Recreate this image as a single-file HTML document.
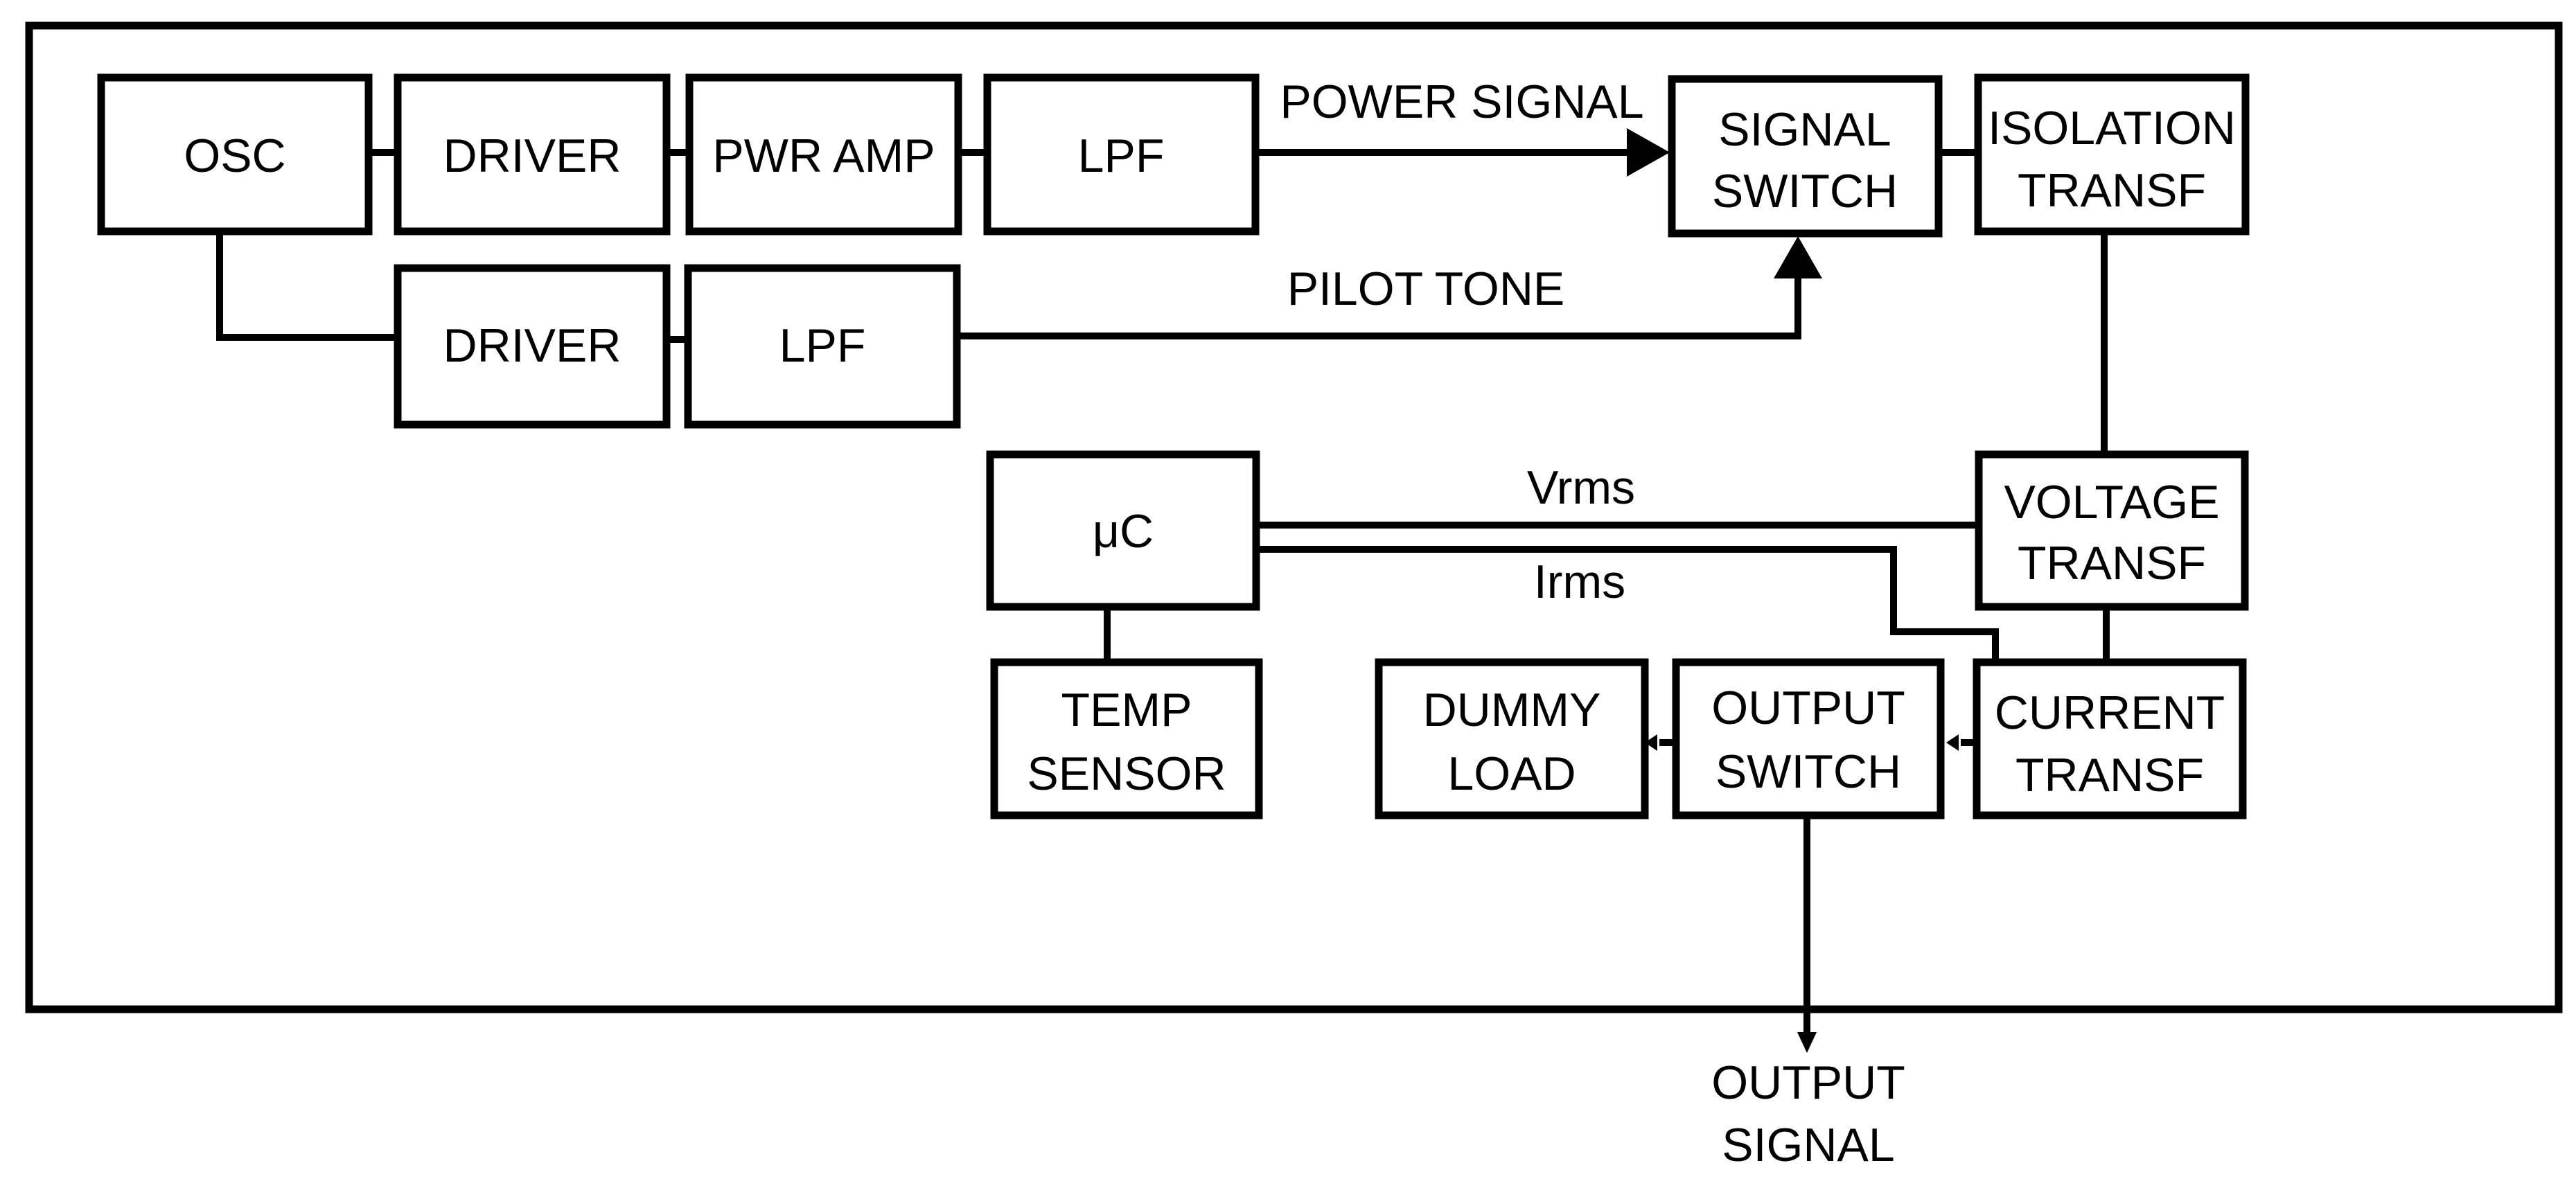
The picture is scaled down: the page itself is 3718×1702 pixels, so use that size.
<!DOCTYPE html>
<html><head><meta charset="utf-8"><style>html,body{margin:0;padding:0;background:#fff}svg{display:block}</style></head>
<body>
<svg width="3718" height="1702" viewBox="0 0 3718 1702" xmlns="http://www.w3.org/2000/svg" font-family="'Liberation Sans', sans-serif" font-size="68" text-anchor="middle">
<rect x="0" y="0" width="3718" height="1702" fill="#fff"/>
<rect x="42" y="37" width="3651" height="1420" fill="none" stroke="#000" stroke-width="11"/>
<g fill="none" stroke="#000" stroke-width="11">
<rect x="146" y="112" width="386" height="222"/>
<rect x="574" y="112" width="388" height="222"/>
<rect x="995" y="112" width="388" height="222"/>
<rect x="1425" y="112" width="387" height="222"/>
<rect x="2413" y="114" width="385" height="223"/>
<rect x="2855" y="112" width="386" height="222"/>
<rect x="574" y="387" width="388" height="226"/>
<rect x="993" y="387" width="388" height="226"/>
<rect x="1429" y="656" width="384" height="220"/>
<rect x="2856" y="656" width="384" height="220"/>
<rect x="1435" y="956" width="382" height="221"/>
<rect x="1990" y="956" width="384" height="221"/>
<rect x="2419" y="956" width="382" height="221"/>
<rect x="2853" y="956" width="384" height="221"/>
</g>
<g fill="none" stroke="#000" stroke-width="10">
<line x1="532" y1="220" x2="574" y2="220"/>
<line x1="962" y1="220" x2="995" y2="220"/>
<line x1="1383" y1="220" x2="1425" y2="220"/>
<line x1="1812" y1="220" x2="2352" y2="220"/>
<line x1="2798" y1="220" x2="2855" y2="220"/>
<polyline points="317,334 317,487 574,487"/>
<line x1="962" y1="490" x2="993" y2="490"/>
<polyline points="1381,485 2595,485 2595,400"/>
<line x1="3037" y1="334" x2="3037" y2="656"/>
<line x1="3040" y1="876" x2="3040" y2="956"/>
<line x1="1813" y1="758" x2="2856" y2="758"/>
<polyline points="1813,793 2733,793 2733,912 2880,912 2880,956"/>
<line x1="1598" y1="876" x2="1598" y2="956"/>
<line x1="2608" y1="1177" x2="2608" y2="1495"/>
<line x1="2419" y1="1072" x2="2395" y2="1072"/>
<line x1="2853" y1="1072" x2="2830" y2="1072"/>
</g>
<polygon points="2348,185 2410,220 2348,255" fill="#000"/>
<polygon points="2560,402 2595,341 2630,402" fill="#000"/>
<polygon points="2594,1490 2608,1520 2622,1490" fill="#000"/>
<polygon points="2374,1072 2392,1060 2392,1084" fill="#000"/>
<polygon points="2809,1072 2827,1060 2827,1084" fill="#000"/>
<g fill="#000">
<text x="339" y="248">OSC</text>
<text x="768" y="248">DRIVER</text>
<text x="1189" y="248">PWR AMP</text>
<text x="1618" y="248">LPF</text>
<text x="768" y="522">DRIVER</text>
<text x="1187" y="522">LPF</text>
<text x="2605" y="210">SIGNAL</text>
<text x="2605" y="299">SWITCH</text>
<text x="3048" y="208">ISOLATION</text>
<text x="3048" y="298">TRANSF</text>
<text x="2110" y="170">POWER SIGNAL</text>
<text x="2058" y="440">PILOT TONE</text>
<text x="1621" y="790">μC</text>
<text x="3048" y="748">VOLTAGE</text>
<text x="3048" y="836">TRANSF</text>
<text x="2282" y="727">Vrms</text>
<text x="2280" y="863">Irms</text>
<text x="1626" y="1048">TEMP</text>
<text x="1626" y="1140">SENSOR</text>
<text x="2182" y="1048">DUMMY</text>
<text x="2182" y="1140">LOAD</text>
<text x="2610" y="1045">OUTPUT</text>
<text x="2610" y="1137">SWITCH</text>
<text x="3045" y="1052">CURRENT</text>
<text x="3045" y="1142">TRANSF</text>
<text x="2610" y="1586">OUTPUT</text>
<text x="2610" y="1676">SIGNAL</text>
</g>
</svg>
</body></html>
